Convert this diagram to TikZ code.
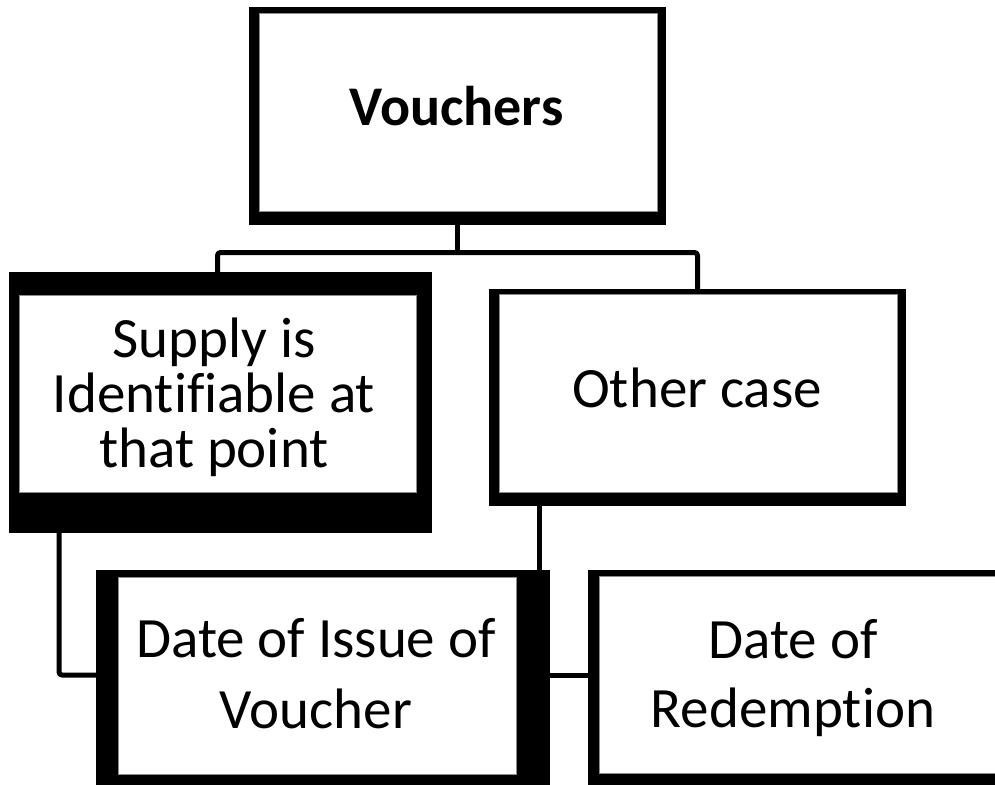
\documentclass[tikz,border=0pt]{standalone}
\usepackage{fontspec}
\setmainfont{Carlito}[Ligatures=NoCommon]
\usetikzlibrary{calc}
\tikzset{
  outerbox/.style={rectangle, fill=black, draw=none, inner sep=0pt, outer sep=0pt},
  innerbox/.style={rectangle, fill=white, draw=black!45, line width=0.8pt, inner sep=0pt, outer sep=0pt},
  conn/.style={line width=5pt, line join=round, rounded corners=3pt},
  lbl/.style={inner sep=0pt, outer sep=0pt, align=center, font=\fontsize{57}{55}\selectfont},
}
\begin{document}
\begin{tikzpicture}[x=1pt,y=-1pt]
\useasboundingbox (0,0) rectangle (995,784);
\clip (0,0) rectangle (995,784);
\fill[white] (0,0) rectangle (995,784);

% outer boxes
\node[outerbox, minimum width=417pt, minimum height=218pt] (v) at (457.5,116) {};
\node[outerbox, minimum width=423pt, minimum height=261pt] (s) at (220.5,402.5) {};
\node[outerbox, minimum width=417pt, minimum height=217pt] (o) at (697.5,397.5) {};
\node[outerbox, minimum width=454pt, minimum height=220pt] (d) at (323,680) {};
\node[outerbox, minimum width=422pt, minimum height=220pt] (r) at (799,680) {};

% connectors
\coordinate (j) at ($(v.south)+(0,27.5)$);
\coordinate (sb) at ($(s.south west)+(50,0)$);
\coordinate (ob) at ($(o.south west)+(50,0)$);
\coordinate (dl) at ($(d.north west)+(0,105)$);
\coordinate (dr) at ($(d.north east)+(0,105)$);
\coordinate (rl) at ($(r.north west)+(0,105)$);
\draw[conn] (v.south) -- (j);
\draw[conn] ($(s.north)+(-3,0)$) |- (j) -| (o.north);
\draw[conn] (sb) |- (dl);
\draw[conn] (ob) -- (ob |- d.north);
\draw[conn] (dr) -- (rl);

% redraw outer boxes over connector ends
\fill[black] (v.north west) rectangle (v.south east);
\fill[black] (s.north west) rectangle (s.south east);
\fill[black] (o.north west) rectangle (o.south east);
\fill[black] (d.north west) rectangle (d.south east);
\fill[black] (r.north west) rectangle (r.south east);

% inner white panels
\node[innerbox, minimum width=398pt, minimum height=198pt] (vi) at (458,112) {};
\node[innerbox, minimum width=397pt, minimum height=197pt] (si) at (217.5,393.5) {};
\node[innerbox, minimum width=398pt, minimum height=198pt] (oi) at (698,393) {};
\node[innerbox, minimum width=398pt, minimum height=197pt] (di) at (317,675.5) {};
\node[innerbox, minimum width=401pt, minimum height=197pt] (ri) at (799.5,674.5) {};

% texts
\node[lbl, anchor=base, font=\fontsize{56}{55}\selectfont\bfseries] (vt) at (456.5,125) {Vouchers};
\node[lbl, anchor=base] (ot) at (697,407) {Other case};
\node[lbl] (st) at (214,397.5) {Supply is\\Identifiable at\\that point};
\node[lbl, font=\fontsize{57}{71}\selectfont] (dt) at (316,673.5) {Date of Issue of\\Voucher};
\node[lbl, font=\fontsize{57}{69}\selectfont] (rt) at (793,678) {Date of\\Redemption};
\end{tikzpicture}
\end{document}
